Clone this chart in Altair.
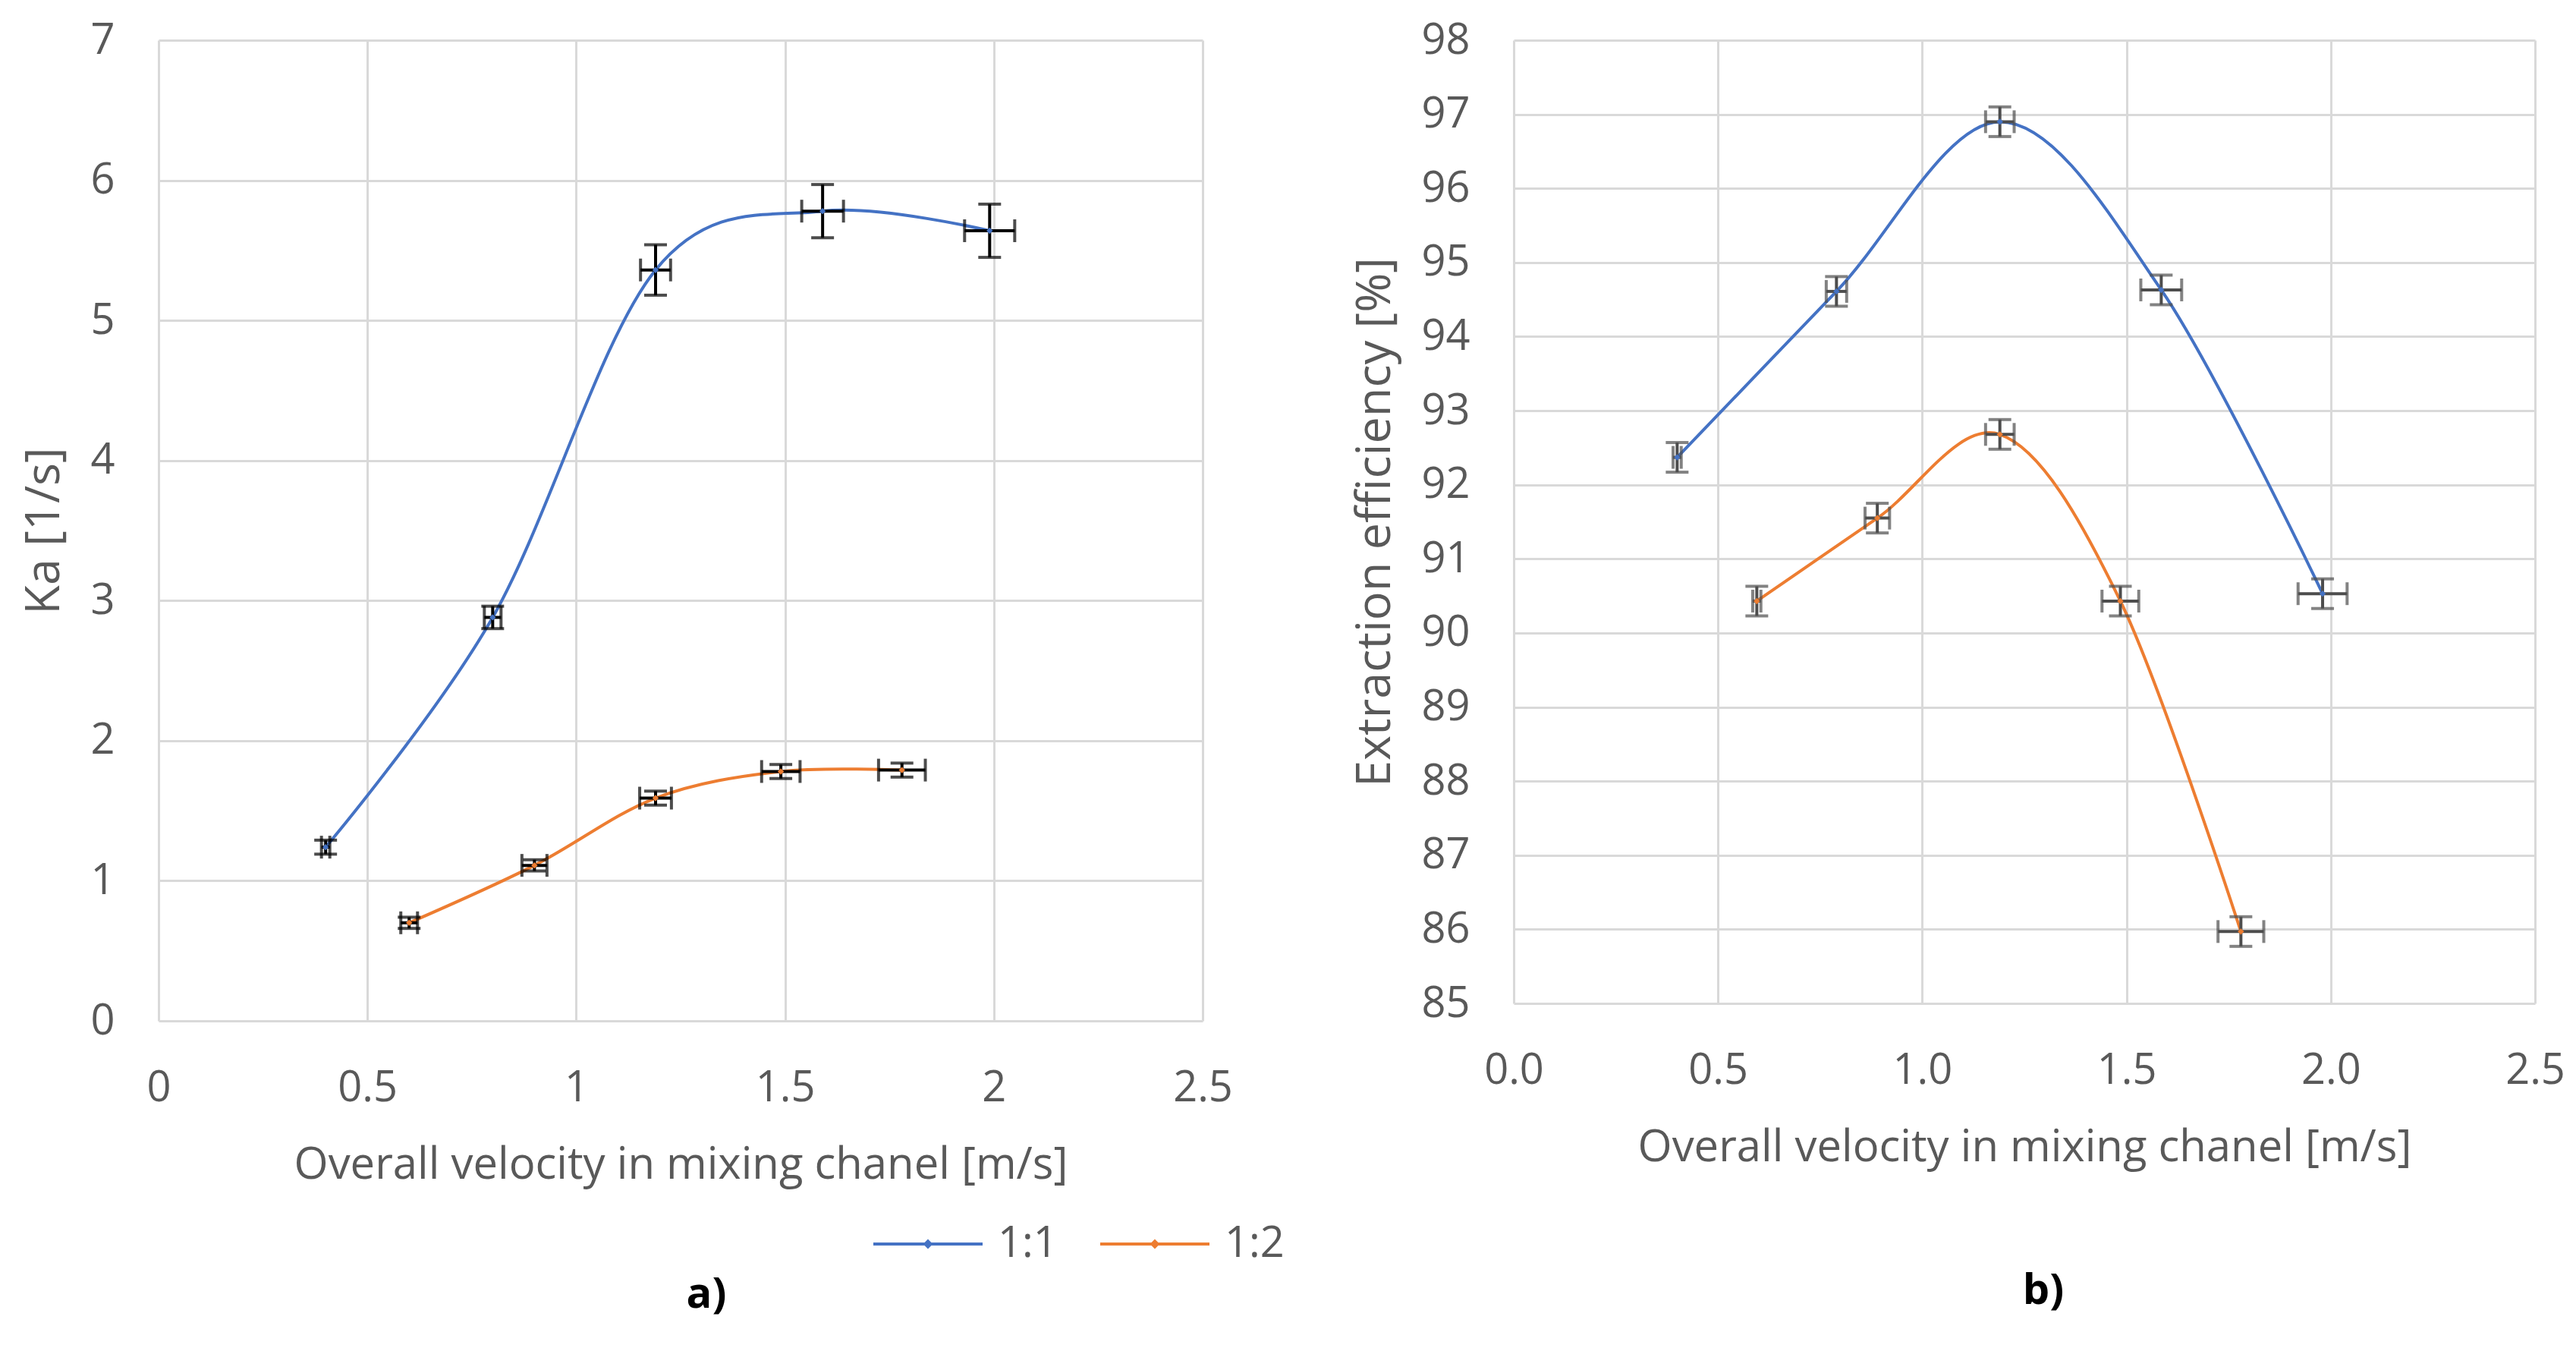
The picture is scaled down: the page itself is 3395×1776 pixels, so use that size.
import altair as alt
import pandas as pd

FONT = "Open Sans"
GREY = "#595959"
GRID = "#d9d9d9"
BLUE = "#4472C4"
ORANGE = "#ED7D31"

series_names = ["1:1", "1:2"]
x_title = "Overall velocity in mixing chanel [m/s]"

# ---- panel a) : Ka [1/s]
a_x_11 = [0.40, 0.80, 1.19, 1.59, 1.99]
a_y_11 = [1.24, 2.88, 5.36, 5.78, 5.64]
a_xerr_11 = [0.010, 0.020, 0.036, 0.050, 0.060]
a_yerr_11 = [0.05, 0.08, 0.18, 0.19, 0.19]

a_x_12 = [0.60, 0.90, 1.19, 1.49, 1.78]
a_y_12 = [0.70, 1.11, 1.59, 1.78, 1.79]
a_xerr_12 = [0.020, 0.030, 0.038, 0.046, 0.056]
a_yerr_12 = [0.04, 0.04, 0.05, 0.05, 0.05]

# ---- panel b) : Extraction efficiency [%]
b_x_11 = [0.40, 0.79, 1.19, 1.585, 1.98]
b_y_11 = [92.37, 94.61, 96.90, 94.63, 90.53]
b_xerr_11 = [0.010, 0.025, 0.035, 0.050, 0.060]
b_yerr_11 = [0.20, 0.20, 0.20, 0.20, 0.20]

b_x_12 = [0.595, 0.89, 1.19, 1.485, 1.78]
b_y_12 = [90.43, 91.55, 92.68, 90.43, 85.97]
b_xerr_12 = [0.010, 0.030, 0.035, 0.045, 0.056]
b_yerr_12 = [0.20, 0.20, 0.20, 0.20, 0.20]

x_ticks = [0, 0.5, 1.0, 1.5, 2.0, 2.5]
a_y_ticks = [0, 1, 2, 3, 4, 5, 6, 7]
b_y_ticks = list(range(85, 99))


def frame(xs, ys, xerr, yerr, name):
    return pd.DataFrame({
        "x": xs, "y": ys,
        "xlo": [a - b for a, b in zip(xs, xerr)],
        "xhi": [a + b for a, b in zip(xs, xerr)],
        "ylo": [a - b for a, b in zip(ys, yerr)],
        "yhi": [a + b for a, b in zip(ys, yerr)],
        "series": name,
    })


a_df = pd.concat([frame(a_x_11, a_y_11, a_xerr_11, a_yerr_11, "1:1"),
                  frame(a_x_12, a_y_12, a_xerr_12, a_yerr_12, "1:2")])
b_df = pd.concat([frame(b_x_11, b_y_11, b_xerr_11, b_yerr_11, "1:1"),
                  frame(b_x_12, b_y_12, b_xerr_12, b_yerr_12, "1:2")])

LEGEND_PATH = "M-1,0L1,0M0,-0.05L0.05,0L0,0.05L-0.05,0Z"


def panel(df, ydomain, yticks, ytitle, xfmt, errcolor, label, lx, ly, w, h, show_legend):
    xs = alt.Scale(domain=[0, 2.5], nice=False, zero=False)
    ys = alt.Scale(domain=ydomain, nice=False, zero=False)
    xax = alt.Axis(values=x_ticks, format=xfmt, title=x_title, labelFlush=False)
    yax = alt.Axis(values=yticks, format="d", title=ytitle)
    if show_legend:
        leg = alt.Legend(orient="none", legendX=940, legendY=1512, direction="horizontal",
                         title=None, symbolType=LEGEND_PATH, symbolSize=20736,
                         symbolStrokeWidth=4, labelFontSize=56, labelFont=FONT,
                         labelColor=GREY, labelOffset=18, columnPadding=48, padding=0)
    else:
        leg = None
    color = alt.Color("series:N", scale=alt.Scale(domain=series_names, range=[BLUE, ORANGE]),
                      legend=leg)
    base = alt.Chart(df)
    line = base.mark_line(interpolate="cardinal", tension=0, strokeWidth=4).encode(
        x=alt.X("x:Q", scale=xs, axis=xax),
        y=alt.Y("y:Q", scale=ys, axis=yax),
        color=color,
        detail="series:N",
    )
    vrule = base.mark_rule(color=errcolor, strokeWidth=4).encode(
        x="x:Q", y="ylo:Q", y2="yhi:Q")
    hrule = base.mark_rule(color=errcolor, strokeWidth=4).encode(
        y="y:Q", x="xlo:Q", x2="xhi:Q")
    cap_lo = base.mark_tick(color=errcolor, orient="horizontal", size=30, thickness=4).encode(
        x="x:Q", y="ylo:Q")
    cap_hi = base.mark_tick(color=errcolor, orient="horizontal", size=30, thickness=4).encode(
        x="x:Q", y="yhi:Q")
    cap_l = base.mark_tick(color=errcolor, orient="vertical", size=30, thickness=4).encode(
        x="xlo:Q", y="y:Q")
    cap_r = base.mark_tick(color=errcolor, orient="vertical", size=30, thickness=4).encode(
        x="xhi:Q", y="y:Q")
    pts = base.mark_point(filled=True, size=70, shape="diamond", opacity=1).encode(
        x="x:Q", y="y:Q", color=alt.Color("series:N", legend=None))
    txt = alt.Chart(pd.DataFrame({"t": [label]})).mark_text(
        font=FONT, fontSize=56, fontWeight="bold", color="#000000",
        align="center", baseline="middle").encode(
        text="t:N", x=alt.value(lx), y=alt.value(ly))
    return alt.layer(line, vrule, hrule, cap_lo, cap_hi, cap_l, cap_r, pts, txt).properties(
        width=w, height=h)


left = panel(a_df, [0, 7], a_y_ticks, "Ka [1/s]", "", "#000000", "a)", 722, 1653, 1376, 1292, True)
right = panel(b_df, [85, 98], b_y_ticks, "Extraction efficiency [%]", ".1f", "#4d4d4d", "b)",
              698, 1648, 1346, 1269, False)

chart = alt.hconcat(left, right, spacing=410, bounds="flush").properties(
    padding={"left": 19, "top": 17, "right": 5, "bottom": 5}
).configure_view(stroke=None).configure_axis(
    grid=True, gridColor=GRID, gridWidth=3, domain=False, ticks=False, tickSize=0,
    labelFont=FONT, labelFontSize=56, labelColor=GREY, labelPadding=58,
    titleFont=FONT, titleFontSize=58, titleColor=GREY, titleFontWeight="normal",
).configure_axisX(labelPadding=61, titlePadding=45).configure_axisY(
    titlePadding=28, titleFontSize=63)

chart.save("out.html", embed_options={"renderer": "svg", "actions": False})
